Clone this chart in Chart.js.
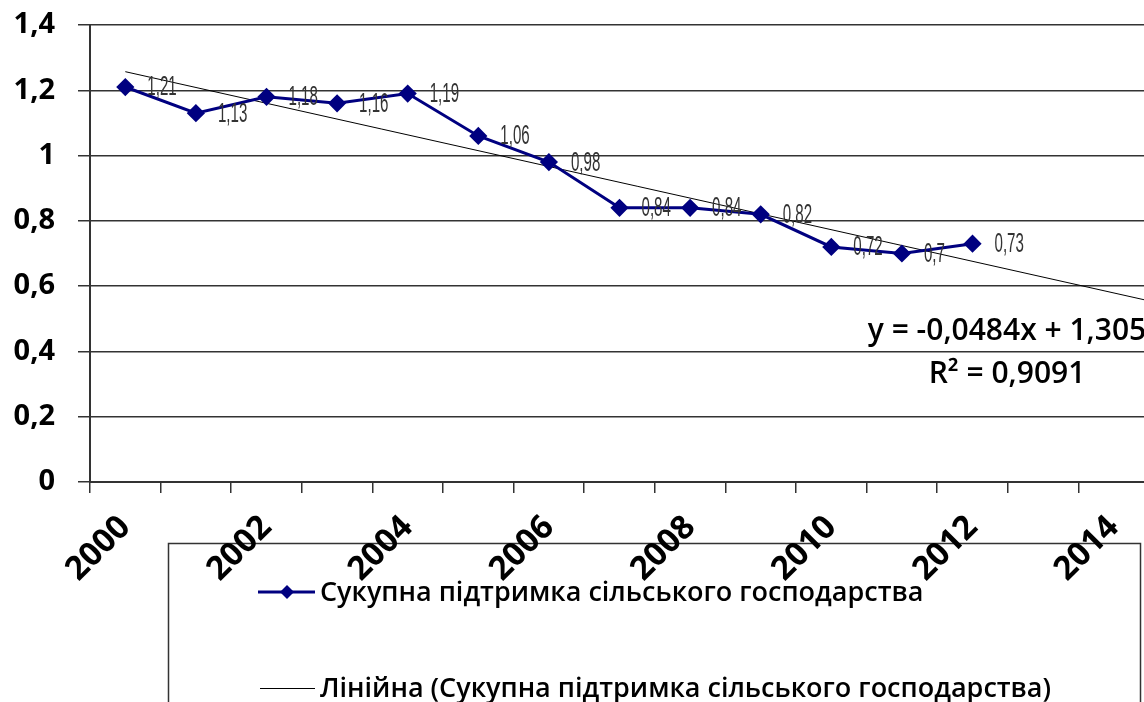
<!DOCTYPE html>
<html>
<head>
<meta charset="utf-8">
<script src="https://cdn.jsdelivr.net/npm/chart.js@4.4.1/dist/chart.umd.min.js"></script>
<style>
	html, body { margin: 0; padding: 0; overflow: hidden; background: #fff; }
	canvas { display: block; }
</style>
</head>
<body>
<canvas id="chart" width="1160" height="720"></canvas>
<script>
'use strict';

// categories on the x axis (2013, 2014 have no data, only room for the trend)
const years = ['2000', '2001', '2002', '2003', '2004', '2005', '2006', '2007',
	'2008', '2009', '2010', '2011', '2012', '2013', '2014'];
// Сукупна підтримка сільського господарства
const support = [1.21, 1.13, 1.18, 1.16, 1.19, 1.06, 0.98, 0.84, 0.84, 0.82, 0.72, 0.70, 0.73];
// linear trend, read at its two ends (start at 2000, end at the right edge of the plot)
const trendYears = [2000, 2014.5];
const trendValues = [1.257, 0.555];

const seriesName = 'Сукупна підтримка сільського господарства';
const trendName = 'Лінійна (Сукупна підтримка сільського господарства)';
const equation = 'y = -0,0484x + 1,305';
const rSquared = 'R² = 0,9091';

const navy = '#000080';
const axisColor = '#333';

function comma(v) {
	return String(Number(v.toFixed(2))).replace('.', ',');
}

// value labels right of each marker, in a thin narrow face
const valueLabels = {
	id: 'valueLabels',
	afterDatasetsDraw(chart) {
		const ctx = chart.ctx;
		const meta = chart.getDatasetMeta(0);
		ctx.save();
		ctx.font = '27px "Liberation Sans"';
		ctx.fillStyle = '#333';
		ctx.textBaseline = 'middle';
		meta.data.forEach(function (pt, i) {
			ctx.save();
			ctx.translate(pt.x + 22, pt.y + 1);
			ctx.scale(0.56, 1);
			ctx.fillText(comma(support[i]), 0, 0);
			ctx.restore();
		});
		ctx.restore();
	}
};

// trend equation, both lines centred on the same x
const trendText = {
	id: 'trendText',
	afterDatasetsDraw(chart) {
		const ctx = chart.ctx;
		ctx.save();
		ctx.font = '600 30px "Open Sans"';
		ctx.fillStyle = '#000';
		ctx.textBaseline = 'middle';
		ctx.textAlign = 'center';
		ctx.fillText(equation, 1007, 331);
		ctx.fillText(rSquared, 1007, 374);
		ctx.restore();
	}
};

// legend box sits under the axis labels
const boxLegend = {
	id: 'boxLegend',
	beforeDraw(chart) {
		const ctx = chart.ctx;
		ctx.save();
		ctx.strokeStyle = axisColor;
		ctx.lineWidth = 1.5;
		ctx.strokeRect(168.5, 543.5, 972, 240);

		ctx.font = '600 27px "Open Sans"';
		ctx.textBaseline = 'middle';

		ctx.strokeStyle = navy;
		ctx.lineWidth = 3;
		ctx.beginPath();
		ctx.moveTo(258, 592);
		ctx.lineTo(315, 592);
		ctx.stroke();
		ctx.fillStyle = navy;
		ctx.beginPath();
		ctx.moveTo(287, 585);
		ctx.lineTo(294, 592);
		ctx.lineTo(287, 599);
		ctx.lineTo(280, 592);
		ctx.closePath();
		ctx.fill();
		ctx.fillStyle = '#000';
		ctx.fillText(seriesName, 320, 593);

		ctx.strokeStyle = '#000';
		ctx.lineWidth = 1;
		ctx.beginPath();
		ctx.moveTo(260, 688.5);
		ctx.lineTo(315, 688.5);
		ctx.stroke();
		ctx.fillText(trendName, 320, 689);
		ctx.restore();
	}
};

const config = {
	type: 'line',
	data: {
		labels: years,
		datasets: [{
			label: seriesName,
			data: support,
			borderColor: navy,
			backgroundColor: navy,
			borderWidth: 3,
			pointStyle: 'rectRot',
			pointRadius: 7,
			pointBackgroundColor: navy,
			pointBorderColor: navy,
			tension: 0,
			fill: false,
			order: 1
		}, {
			label: trendName,
			xAxisID: 'xt',
			data: trendYears.map((x, i) => ({ x: x, y: trendValues[i] })),
			borderColor: '#000',
			borderWidth: 1,
			pointRadius: 0,
			fill: false,
			order: 2
		}]
	},
	options: {
		responsive: false,
		animation: false,
		layout: {
			padding: { top: 25, right: 11, left: 0, bottom: 0 }
		},
		plugins: {
			legend: { display: false },
			tooltip: { enabled: false }
		},
		scales: {
			x: {
				type: 'category',
				offset: true,
				afterFit: (scale) => { scale.height = 238; },
				grid: {
					offset: true,
					drawOnChartArea: false,
					drawTicks: true,
					tickLength: 11,
					color: axisColor,
					lineWidth: 1.5
				},
				border: { display: true, color: axisColor, width: 2 },
				ticks: {
					autoSkip: false,
					maxRotation: 45,
					minRotation: 45,
					padding: 15,
					color: '#000',
					font: { family: 'Open Sans', size: 33, weight: 'bold' },
					callback: function (val, i) {
						return i % 2 === 0 ? this.getLabelForValue(val) : '';
					}
				}
			},
			xt: {
				type: 'linear',
				display: false,
				min: 1999.5,
				max: 2014.5
			},
			y: {
				min: 0,
				max: 1.4,
				afterFit: (scale) => {
					scale.width = 90;
					scale.paddingTop = 0;
					scale.paddingBottom = 0;
				},
				grid: {
					drawOnChartArea: true,
					tickLength: 12,
					color: axisColor,
					lineWidth: 1.5
				},
				border: { display: true, color: axisColor, width: 2 },
				ticks: {
					stepSize: 0.2,
					padding: 23,
					color: '#000',
					font: { family: 'Open Sans', size: 29, weight: 'bold' },
					callback: (v) => comma(v)
				}
			}
		}
	},
	plugins: [boxLegend, valueLabels, trendText]
};

new Chart(document.getElementById('chart'), config);
</script>
</body>
</html>
